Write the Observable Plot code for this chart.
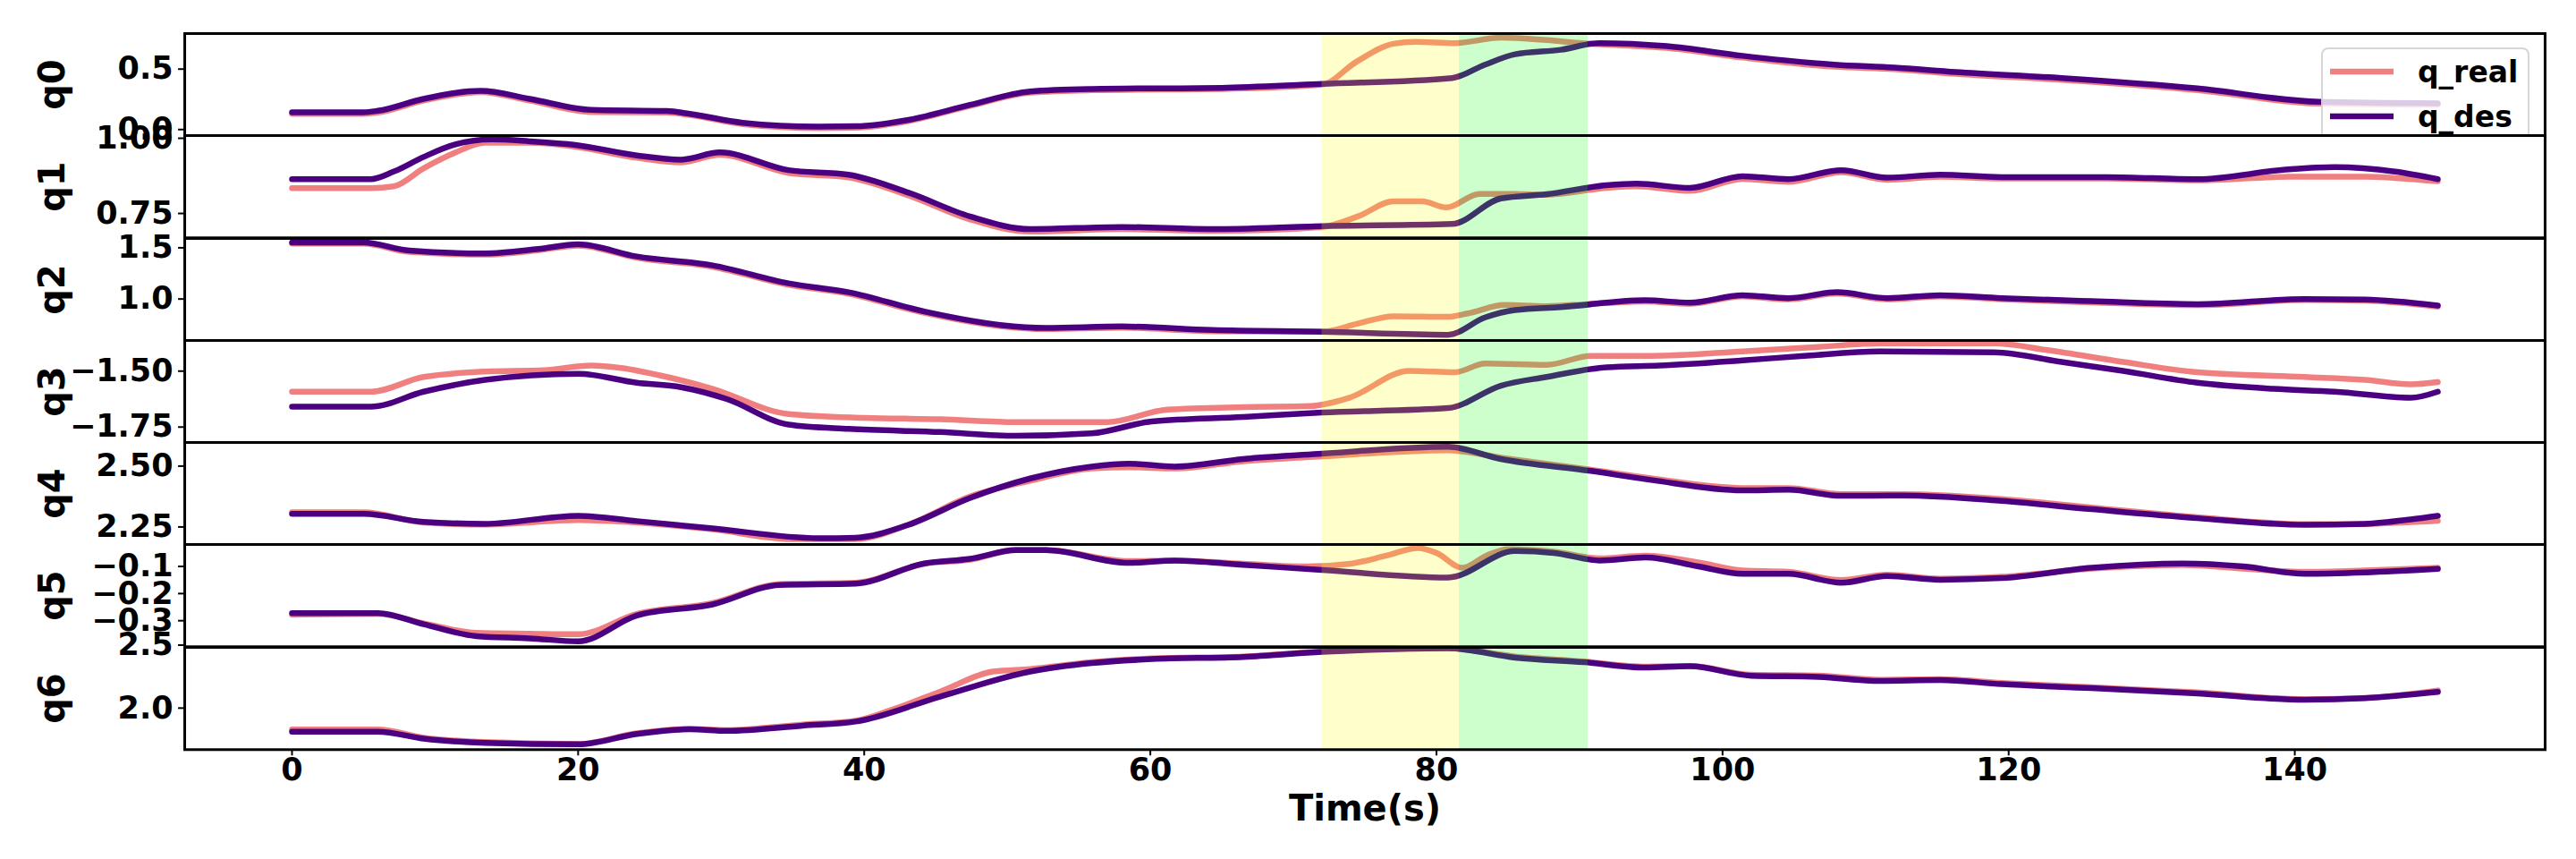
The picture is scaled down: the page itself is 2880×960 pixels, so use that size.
<!DOCTYPE html>
<html>
<head>
<meta charset="utf-8">
<script src="https://cdn.jsdelivr.net/npm/d3@7"></script>
<script src="https://cdn.jsdelivr.net/npm/@observablehq/plot@0.6"></script>
<style>
  html, body { margin: 0; padding: 0; background: white; }
  #chart { position: relative; width: 2880px; height: 960px; background: white; font-family: "DejaVu Sans", sans-serif; font-weight: bold; }
</style>
</head>
<body>
<div id="chart"></div>
<script>
// ---------------- DATA ----------------
const jointNames = ["q0", "q1", "q2", "q3", "q4", "q5", "q6"];
const seriesNames = ["q_real", "q_des"];
const seriesColors = ["#f08080", "#4b0082"];
const xTicks = [0, 20, 40, 60, 80, 100, 120, 140];
const xDomain = [-7.5, 157.5];
const xLabel = "Time(s)";

// shaded intervals (s)
const spanStart = [72, 81.6];
const spanEnd = [81.6, 90.6];
const spanColor = ["#ffff00", "#00ff00"];

// [time, value] pairs
const q0Des = [[0,0.143],[5,0.143],[6,0.155],[9.2,0.254],[13.2,0.32],[16.6,0.254],[20.9,0.163],[26.2,0.153],[27.8,0.13],[31.5,0.056],[36.8,0.024],[39.4,0.027],[43.1,0.08],[47.4,0.204],[51.6,0.315],[55.9,0.335],[65.4,0.347],[72,0.377],[81.1,0.426],[83.4,0.537],[85.5,0.623],[88.7,0.66],[91.4,0.715],[96.1,0.69],[101.4,0.61],[107.8,0.537],[112,0.512],[116.3,0.475],[123.7,0.426],[133.2,0.34],[141.7,0.229],[150,0.217]];
const q0Real = [[0,0.13],[5,0.13],[6,0.14],[9.2,0.24],[13.2,0.31],[16.6,0.24],[20.9,0.145],[26.2,0.14],[27.8,0.12],[31.5,0.045],[36.8,0.012],[39.4,0.015],[43.1,0.07],[47.4,0.195],[51.6,0.305],[55.9,0.325],[65.4,0.337],[72,0.372],[74.4,0.56],[77,0.71],[78.5,0.725],[81.3,0.715],[84.5,0.76],[87.7,0.74],[90.6,0.71],[91.4,0.705],[96.1,0.675],[101.4,0.595],[107.8,0.52],[112,0.5],[116.3,0.46],[123.7,0.41],[133.2,0.325],[141.7,0.215],[150,0.205]];

const q1Des = [[0,0.864],[5.5,0.864],[7.1,0.889],[9.2,0.938],[11.3,0.978],[14,0.996],[16.6,0.99],[19.8,0.978],[24.1,0.943],[27.2,0.929],[29.9,0.953],[34.7,0.894],[38.9,0.879],[43.1,0.819],[47.4,0.74],[51.6,0.698],[58,0.705],[64.3,0.698],[72,0.708],[81.1,0.715],[84.5,0.8],[87.7,0.814],[91.9,0.844],[94,0.849],[97.7,0.835],[101.4,0.874],[104.6,0.864],[108.3,0.894],[111.5,0.869],[115.2,0.879],[119.5,0.871],[126.9,0.871],[133.2,0.864],[139.6,0.897],[142.8,0.904],[147,0.889],[150,0.864]];
const q1Real = [[0,0.834],[5.5,0.834],[7.1,0.84],[9.2,0.9],[11.3,0.95],[13.5,0.985],[16.6,0.985],[19.8,0.972],[24.1,0.935],[27.2,0.92],[29.9,0.945],[34.7,0.885],[38.9,0.87],[43.1,0.81],[47.4,0.73],[51.6,0.69],[58,0.698],[64.3,0.692],[72,0.705],[74.5,0.74],[77,0.79],[79,0.79],[80.7,0.77],[83,0.815],[85.5,0.815],[87.7,0.812],[91.9,0.835],[94,0.84],[97.7,0.825],[101.4,0.865],[104.6,0.855],[108.3,0.887],[111.5,0.862],[115.2,0.872],[119.5,0.866],[126.9,0.866],[133.2,0.86],[139.6,0.872],[145,0.872],[147,0.868],[150,0.857]];

const q2Des = [[0,1.552],[5,1.552],[8.2,1.473],[13.5,1.445],[17.2,1.488],[20,1.534],[24.1,1.415],[29.4,1.328],[34.7,1.153],[38.9,1.066],[44.2,0.878],[49.5,0.747],[52.7,0.718],[58,0.732],[64.3,0.697],[72,0.68],[80.8,0.651],[83.4,0.82],[85.5,0.892],[88.7,0.921],[94.6,0.988],[97.7,0.965],[101.4,1.037],[104.6,1.009],[108,1.066],[111.5,1.009],[115.2,1.037],[119.5,1.009],[125.8,0.979],[133.2,0.95],[140.7,1.0],[144.9,0.994],[150,0.936]];
const q2Real = [[0,1.54],[5,1.54],[8.2,1.46],[13.5,1.433],[17.2,1.476],[20,1.522],[24.1,1.403],[29.4,1.314],[34.7,1.138],[38.9,1.052],[44.2,0.865],[49.5,0.735],[52.7,0.706],[58,0.72],[64.3,0.686],[72,0.68],[74.5,0.76],[77,0.832],[80.8,0.826],[82.2,0.86],[84.8,0.942],[87.7,0.93],[90.5,0.95],[94.6,0.976],[97.7,0.953],[101.4,1.025],[104.6,0.997],[108,1.054],[111.5,0.997],[115.2,1.025],[119.5,0.997],[125.8,0.967],[133.2,0.94],[140.7,0.99],[144.9,0.984],[150,0.926]];

const q3Des = [[0,-1.659],[5.5,-1.659],[9.2,-1.592],[13.5,-1.539],[20,-1.512],[24.1,-1.552],[27.2,-1.572],[30.4,-1.625],[34.7,-1.739],[38.9,-1.758],[45.3,-1.772],[50.6,-1.789],[55.9,-1.778],[60.1,-1.725],[66.5,-1.705],[72,-1.685],[80.8,-1.665],[84.5,-1.565],[87.7,-1.526],[91.9,-1.483],[95.6,-1.475],[101.4,-1.452],[105.7,-1.432],[111,-1.412],[119,-1.416],[123.7,-1.459],[128,-1.499],[133.2,-1.552],[138.5,-1.579],[142.8,-1.592],[148.1,-1.619],[150,-1.592]];
const q3Real = [[0,-1.592],[5.5,-1.592],[9.2,-1.526],[13.5,-1.502],[17.6,-1.496],[20.9,-1.475],[23,-1.486],[26.2,-1.526],[29.4,-1.579],[34.7,-1.692],[40,-1.709],[45.3,-1.715],[50.6,-1.728],[57,-1.728],[61.2,-1.672],[66.5,-1.661],[71.2,-1.656],[73.9,-1.619],[78.1,-1.499],[81.3,-1.505],[83.4,-1.466],[87.7,-1.472],[90.8,-1.432],[95,-1.432],[101.4,-1.412],[106.7,-1.392],[111,-1.376],[119,-1.376],[122.7,-1.406],[128,-1.459],[133.2,-1.505],[140.7,-1.526],[144.9,-1.539],[148.1,-1.559],[150,-1.549]];

const q4Des = [[0,2.304],[5,2.304],[9.2,2.271],[13.5,2.263],[20,2.296],[24.1,2.274],[29.4,2.244],[36.8,2.204],[39.4,2.206],[43.1,2.259],[47.4,2.369],[51.6,2.449],[55.9,2.498],[58.5,2.51],[61.7,2.498],[66.5,2.529],[72,2.551],[80.8,2.58],[84.5,2.529],[90.8,2.48],[95,2.443],[101.4,2.4],[104.6,2.403],[108.3,2.378],[112.6,2.379],[119.5,2.357],[125.8,2.323],[133.2,2.286],[140.7,2.259],[144.9,2.263],[148.1,2.281],[150,2.296]];
const q4Real = [[0,2.31],[5,2.31],[9.2,2.268],[13.5,2.26],[20,2.278],[24.1,2.268],[29.4,2.24],[35,2.2],[39.4,2.2],[43.1,2.26],[47.4,2.375],[51.6,2.44],[55.9,2.49],[58.5,2.495],[61.7,2.49],[66.5,2.52],[72,2.54],[80.8,2.565],[84.5,2.535],[90.8,2.485],[95,2.45],[101.4,2.41],[104.6,2.41],[108.3,2.385],[112.6,2.385],[119.5,2.365],[125.8,2.33],[133.2,2.29],[140.7,2.262],[144.9,2.262],[148.1,2.27],[150,2.275]];

const q5Des = [[0,-0.272],[6,-0.272],[9.2,-0.313],[12.9,-0.357],[16.6,-0.365],[20,-0.376],[24.1,-0.281],[29.4,-0.24],[34.1,-0.168],[39.4,-0.163],[44.2,-0.089],[47.4,-0.072],[50.6,-0.04],[52.7,-0.04],[58.5,-0.087],[61.7,-0.078],[66.5,-0.094],[72,-0.113],[80.8,-0.141],[85.5,-0.043],[88.2,-0.05],[91.4,-0.078],[94.6,-0.067],[98.3,-0.1],[101.4,-0.127],[104.6,-0.127],[108.3,-0.16],[111.5,-0.135],[115.2,-0.149],[119.5,-0.143],[125.8,-0.105],[132.2,-0.089],[136.4,-0.1],[140.7,-0.127],[144.9,-0.122],[150,-0.109]];
const q5Real = [[0,-0.278],[6,-0.275],[9.2,-0.31],[12.9,-0.345],[16.6,-0.348],[20,-0.35],[24.1,-0.275],[29.4,-0.235],[34.1,-0.165],[39.4,-0.16],[44.2,-0.09],[47.4,-0.075],[50.6,-0.04],[52.7,-0.04],[58.5,-0.08],[61.7,-0.078],[66.5,-0.09],[71,-0.1],[74,-0.09],[76.5,-0.06],[78.7,-0.032],[80,-0.05],[81.8,-0.105],[83.5,-0.06],[85,-0.036],[88.2,-0.045],[91.4,-0.07],[94.6,-0.06],[98.3,-0.085],[101.4,-0.115],[104.6,-0.12],[108.3,-0.15],[111.5,-0.13],[115.2,-0.145],[119.5,-0.138],[125.8,-0.108],[132.2,-0.095],[136.4,-0.108],[140.7,-0.12],[144.9,-0.115],[150,-0.105]];

const q6Des = [[0,1.813],[6,1.813],[9.2,1.757],[13.5,1.724],[20,1.712],[24.1,1.794],[27.8,1.831],[30.4,1.819],[35.7,1.861],[39.4,1.893],[45.3,2.091],[51.6,2.29],[55.9,2.357],[60.1,2.389],[66.5,2.406],[72,2.446],[80.8,2.475],[85.5,2.401],[90.3,2.364],[94.6,2.322],[97.7,2.332],[102,2.257],[106.7,2.248],[111,2.215],[115.2,2.222],[119.5,2.19],[125.8,2.158],[133.2,2.116],[140.7,2.066],[144.9,2.079],[150,2.129]];
const q6Real = [[0,1.83],[6,1.83],[9.2,1.765],[13.5,1.73],[20,1.715],[24.1,1.8],[27.8,1.835],[30.4,1.825],[35.7,1.87],[39.4,1.9],[42,1.99],[45.3,2.13],[49,2.29],[51.6,2.31],[55.9,2.365],[60.1,2.395],[66.5,2.41],[72,2.45],[80.8,2.475],[85.5,2.41],[90.3,2.37],[94.6,2.33],[97.7,2.335],[102,2.265],[106.7,2.258],[111,2.225],[115.2,2.23],[119.5,2.2],[125.8,2.165],[133.2,2.125],[140.7,2.07],[144.9,2.08],[150,2.14]];

// y scale domains and ticks per joint
const q0Domain = [-0.052, 0.794], q0Ticks = [0.0, 0.5], q0Labels = ["0.0", "0.5"];
const q1Domain = [0.669, 1.009], q1Ticks = [0.75, 1.0], q1Labels = ["0.75", "1.00"];
const q2Domain = [0.593, 1.591], q2Ticks = [1.0, 1.5], q2Labels = ["1.0", "1.5"];
const q3Domain = [-1.82, -1.363], q3Ticks = [-1.75, -1.5], q3Labels = ["\u22121.75", "\u22121.50"];
const q4Domain = [2.177, 2.597], q4Ticks = [2.25, 2.5], q4Labels = ["2.25", "2.50"];
const q5Domain = [-0.396, -0.019], q5Ticks = [-0.3, -0.2, -0.1], q5Labels = ["\u22120.3", "\u22120.2", "\u22120.1"];
const q6Domain = [1.67, 2.482], q6Ticks = [2.0, 2.5], q6Labels = ["2.0", "2.5"];

// ---------------- BUILD ----------------
const desList = [q0Des, q1Des, q2Des, q3Des, q4Des, q5Des, q6Des];
const realList = [q0Real, q1Real, q2Real, q3Real, q4Real, q5Real, q6Real];
const domainList = [q0Domain, q1Domain, q2Domain, q3Domain, q4Domain, q5Domain, q6Domain];
const tickList = [q0Ticks, q1Ticks, q2Ticks, q3Ticks, q4Ticks, q5Ticks, q6Ticks];
const labelList = [q0Labels, q1Labels, q2Labels, q3Labels, q4Labels, q5Labels, q6Labels];

const spans = spanStart.map((s, i) => ({start: s, end: spanEnd[i], color: spanColor[i]}));

const figW = 2880, figH = 960, plotLeft = 206, plotRight = 35, plotTop = 37, plotBottom = 837;
const nPanels = jointNames.length;
const panelH = (plotBottom - plotTop) / nPanels;
const chartEl = document.getElementById("chart");
const fontStack = "'DejaVu Sans', 'Liberation Sans', sans-serif";
const tickFont = 35, labelFont = 40, legendFont = 33;

for (let i = 0; i < nPanels; i++) {
  const isLast = i === nPanels - 1;
  const toRows = arr => arr.map(([t, v]) => ({t, v}));
  const ticks = tickList[i], labels = labelList[i];
  const marks = [
    Plot.frame({fill: "white", stroke: null}),
    Plot.line(toRows(realList[i]), {x: "t", y: "v", stroke: seriesColors[0], strokeWidth: 6.5, curve: "monotone-x"}),
    Plot.line(toRows(desList[i]), {x: "t", y: "v", stroke: seriesColors[1], strokeWidth: 6.5, curve: "monotone-x"}),
    Plot.rect(spans, {x1: "start", x2: "end", fill: "color", fillOpacity: 0.2}),
    Plot.axisY({ticks, tickFormat: d => labels[ticks.indexOf(d)], tickSize: 7, tickPadding: 6,
      fontSize: tickFont, fontWeight: "bold", strokeWidth: 2, label: null}),
    Plot.text([jointNames[i]], {frameAnchor: "left", dx: -147, rotate: -90, textAnchor: "middle", lineAnchor: "middle",
      fontSize: labelFont, fontWeight: "bold", text: d => d}),
    Plot.frame({stroke: "black", strokeWidth: 3})
  ];
  if (isLast) {
    marks.push(Plot.axisX({ticks: xTicks, tickSize: 7, tickPadding: 2, fontSize: tickFont, fontWeight: "bold", strokeWidth: 2, label: null}));
    marks.push(Plot.text([xLabel], {frameAnchor: "bottom", dy: 66, lineAnchor: "middle", textAnchor: "middle",
      fontSize: labelFont, fontWeight: "bold", text: d => d}));
  }
  const mb = isLast ? figH - plotBottom : 0;
  const svg = Plot.plot({
    width: figW,
    height: panelH + mb,
    marginLeft: plotLeft, marginRight: plotRight, marginTop: 0, marginBottom: mb,
    x: {domain: xDomain, axis: isLast ? undefined : null},
    y: {domain: domainList[i]},
    color: {type: "identity"},
    style: {fontFamily: fontStack, fontWeight: "bold", fontSize: tickFont + "px", overflow: "visible", background: "transparent", color: "black"},
    marks
  });
  svg.style.position = "absolute";
  svg.style.left = "0px";
  svg.style.top = (plotTop + i * panelH) + "px";
  svg.style.maxWidth = "none";
  chartEl.appendChild(svg);

  if (i === 0) {
    // legend (drawn in the first panel, covered by the next panel)
    const lg = document.createElement("div");
    lg.style.cssText = "position:absolute;left:2595px;top:53px;width:233px;height:112px;box-sizing:border-box;" +
      "border:2px solid rgba(204,204,204,0.8);border-radius:8px;background:rgba(255,255,255,0.8);";
    const ns = "http://www.w3.org/2000/svg";
    const s = document.createElementNS(ns, "svg");
    s.setAttribute("width", "229"); s.setAttribute("height", "108");
    s.style.display = "block";
    seriesNames.forEach((name, k) => {
      const cy = 25 + k * 50;
      const ln = document.createElementNS(ns, "line");
      ln.setAttribute("x1", 8); ln.setAttribute("x2", 79);
      ln.setAttribute("y1", cy); ln.setAttribute("y2", cy);
      ln.setAttribute("stroke", seriesColors[k]); ln.setAttribute("stroke-width", 6.5);
      s.appendChild(ln);
      const tx = document.createElementNS(ns, "text");
      tx.setAttribute("x", 106); tx.setAttribute("y", cy);
      tx.setAttribute("dy", "0.35em");
      tx.setAttribute("font-family", fontStack); tx.setAttribute("font-weight", "bold"); tx.setAttribute("font-size", legendFont);
      tx.textContent = name;
      s.appendChild(tx);
    });
    lg.appendChild(s);
    chartEl.appendChild(lg);
  }
}
</script>
</body>
</html>
